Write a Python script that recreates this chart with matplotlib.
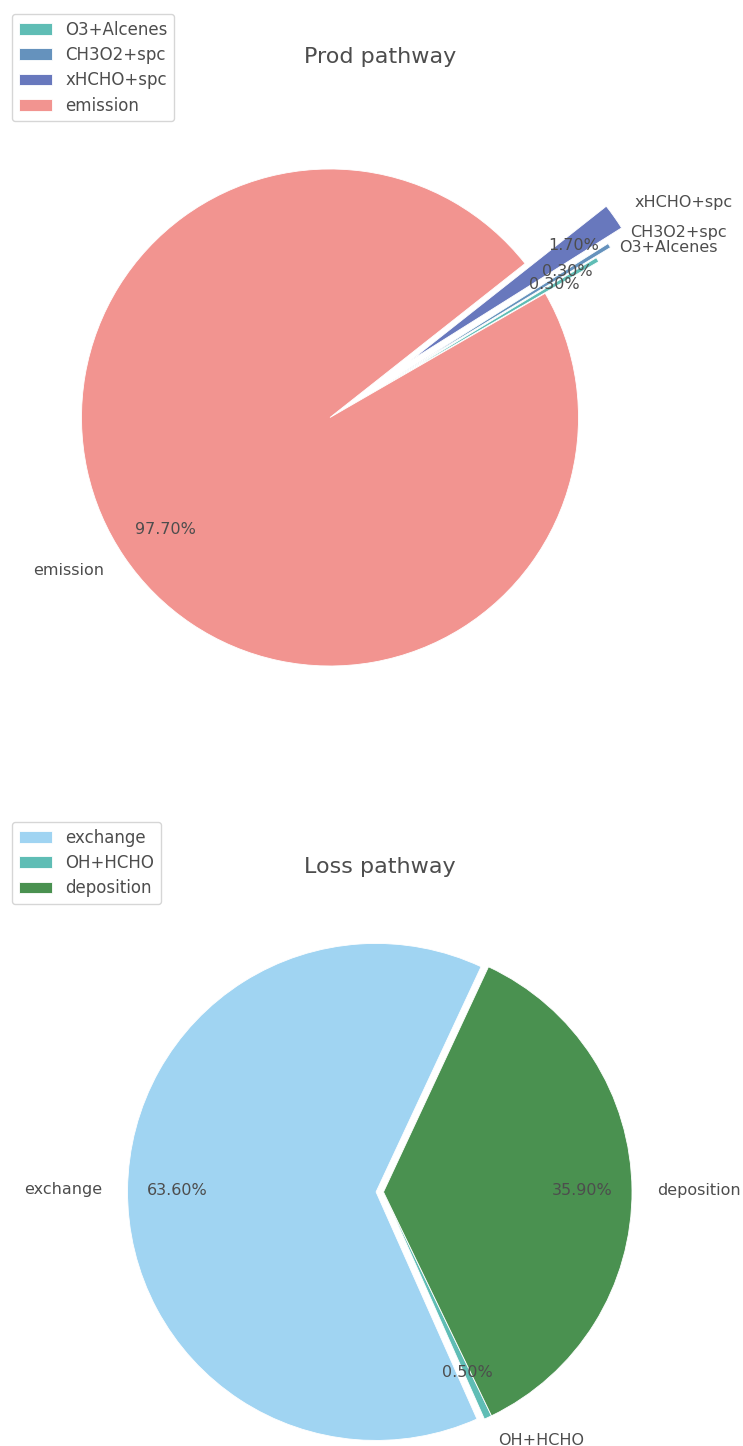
import matplotlib
matplotlib.use("Agg")
import matplotlib.pyplot as plt

# data
prod_labels = ["O3+Alcenes", "CH3O2+spc", "xHCHO+spc", "emission"]
prod_values = [0.3, 0.3, 1.7, 97.7]
prod_colors = ["#5fbdb5", "#6592bd", "#6878bd", "#f29490"]
prod_explode = [0.25, 0.32, 0.4, 0]

loss_labels = ["exchange", "OH+HCHO", "deposition"]
loss_values = [63.6, 0.5, 35.9]
loss_colors = ["#a0d4f2", "#5fbdb5", "#4a9150"]
loss_explode = [0.03, 0, 0]

TEXT = "#4d4d4d"
plt.rcParams["text.color"] = TEXT
plt.rcParams["font.family"] = "DejaVu Sans"

W, H = 743, 1446
fig = plt.figure(figsize=(W / 100, H / 100), dpi=100)


def add_pie_axes(top_px, bottom_px, cx, cy, r):
    # axes placed in pixel units, data scaled so one unit = r pixels
    left_px, right_px = 30, 730
    ax = fig.add_axes([left_px / W, 1 - bottom_px / H,
                       (right_px - left_px) / W, (bottom_px - top_px) / H])
    lims = dict(xlim=((left_px - cx) / r, (right_px - cx) / r),
                ylim=(-(bottom_px - cy) / r, (cy - top_px) / r))
    return ax, lims


wedge_style = dict(edgecolor="white", linewidth=0.6)
text_style = dict(color=TEXT, fontsize=11.5)

# production pie
ax1, lims1 = add_pie_axes(71.3, 771.3, 330, 417.5, 248.5)
wedges1, _, _ = ax1.pie(prod_values, labels=prod_labels, colors=prod_colors,
                        explode=prod_explode, startangle=30,
                        autopct="%.2f%%", pctdistance=0.8, labeldistance=1.1,
                        wedgeprops=wedge_style, textprops=text_style)
ax1.set(**lims1)
ax1.set_aspect("auto")
ax1.set_title("Prod pathway", fontsize=16, color=TEXT)
ax1.legend(wedges1, prod_labels, loc="upper left", fontsize=12,
           labelspacing=0.44,
           bbox_to_anchor=(12 / W, 1 - 14 / H), bbox_transform=fig.transFigure,
           borderaxespad=0, labelcolor=TEXT)

# loss pie
ax2, lims2 = add_pie_axes(881.3, 1446, 383.5, 1192, 248.5)
wedges2, _, _ = ax2.pie(loss_values, labels=loss_labels, colors=loss_colors,
                        explode=loss_explode, startangle=65,
                        autopct="%.2f%%", pctdistance=0.8, labeldistance=1.1,
                        wedgeprops=wedge_style, textprops=text_style)
ax2.set(**lims2)
ax2.set_aspect("auto")
ax2.set_title("Loss pathway", fontsize=16, color=TEXT)
ax2.legend(wedges2, loss_labels, loc="upper left", fontsize=12,
           labelspacing=0.44,
           bbox_to_anchor=(12 / W, 1 - 822 / H), bbox_transform=fig.transFigure,
           borderaxespad=0, labelcolor=TEXT)

fig.savefig("out.png", dpi=100)
